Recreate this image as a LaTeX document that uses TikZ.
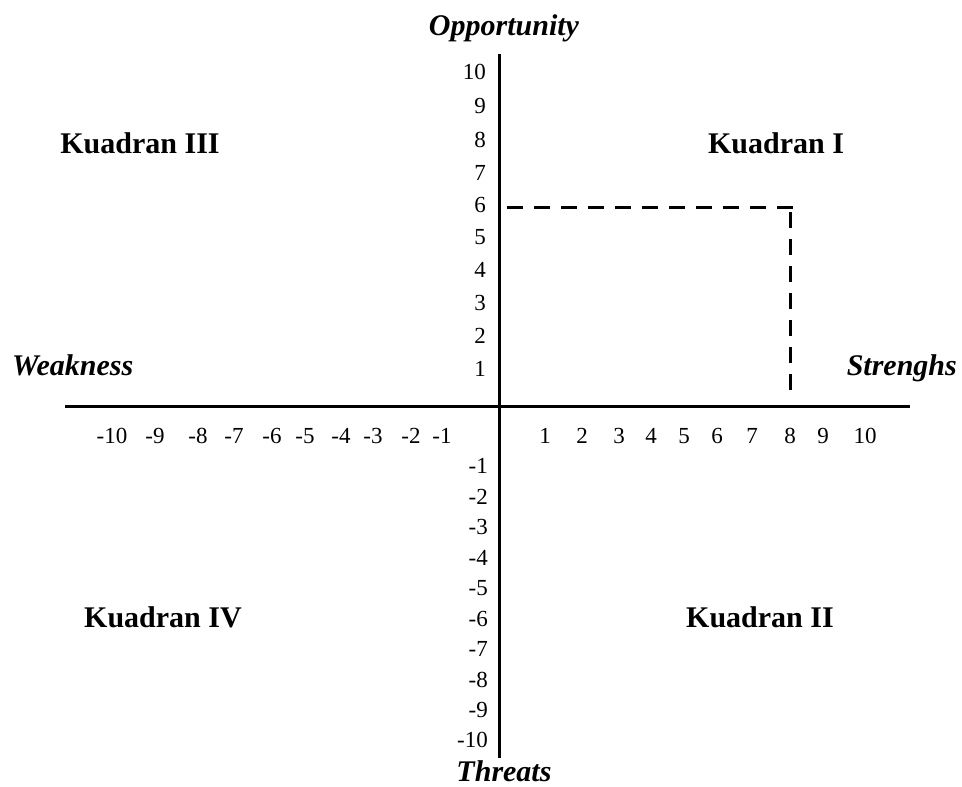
\documentclass[tikz,border=0pt]{standalone}
\usepackage{fontspec}
\setmainfont{Liberation Serif}
\begin{document}
\begin{tikzpicture}[x=1pt,y=-1pt,
  axisline/.style={line width=3pt},
  dashline/.style={line width=3pt,dash pattern=on 16pt off 11pt},
  title/.style={inner sep=0pt,anchor=base,font=\fontsize{30}{36}\selectfont\bfseries\itshape},
  quad/.style={inner sep=0pt,anchor=base,font=\fontsize{30}{36}\selectfont\bfseries},
  ynum/.style={inner sep=0pt,anchor=base east,font=\fontsize{23}{26}\selectfont},
  xnum/.style={inner sep=0pt,anchor=base,font=\fontsize{23}{26}\selectfont}]
\useasboundingbox (0,0) rectangle (962,787);
% axes
\coordinate (ytop) at (499,54);
\coordinate (ybot) at (499,758);
\coordinate (xl) at (65,406);
\coordinate (xr) at (910,406);
\draw[axisline] (ytop) -- (ybot);
\draw[axisline] (xl) -- (xr);
% dashed point
\coordinate (d0) at (507,207);
\coordinate (d1) at (797,207);
\coordinate (d2) at (790,212);
\coordinate (d3) at (790,392);
\draw[dashline] (d0) -- (d1);
\draw[dashline] (d2) -- (d3);
% titles
\node[title] (opp) at (504,35) {Opportunity};
\node[title] (thr) at (504,781) {Threats};
\node[title,anchor=base west] (weak) at (12,375) {Weakness};
\node[title,anchor=base east] (str) at (957,375) {Strenghs};
% quadrants
\node[quad] (q1) at (776,153) {Kuadran I};
\node[quad] (q3) at (140,153) {Kuadran III};
\node[quad] (q4) at (163,627) {Kuadran IV};
\node[quad] (q2) at (760,627) {Kuadran II};
% y numbers
\foreach \v/\yy in {10/79,9/113,8/147,7/180,6/212,5/244,4/277,3/310,2/343,1/376}
  \node[ynum] (yp\v) at (486,\yy) {\v};
\foreach \v/\yy in {1/473,2/504,3/534,4/565,5/595,6/626,7/656,8/687,9/717,10/747}
  \node[ynum] (yn\v) at (488,\yy) {-\v};
% x numbers
\foreach \v/\xx in {10/112,9/155,8/198,7/234,6/272,5/305,4/341,3/373,2/411,1/442}
  \node[xnum] (xn\v) at (\xx,443) {-\v};
\foreach \v/\xx in {1/545,2/582,3/619,4/651,5/684,6/717,7/752,8/790,9/823,10/865}
  \node[xnum] (xp\v) at (\xx,443) {\v};
\end{tikzpicture}
\end{document}
